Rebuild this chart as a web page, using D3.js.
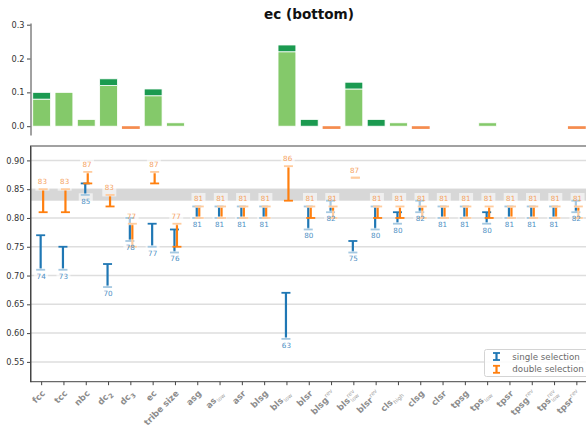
<!DOCTYPE html>
<html>
<head>
<meta charset="utf-8">
<script src="https://cdn.jsdelivr.net/npm/d3@7"></script>
<style>
  body { margin: 0; background: #fff; }
  svg { display: block; font-family: "DejaVu Sans", sans-serif; }
</style>
</head>
<body>
<svg id="chart" width="586" height="427"></svg>
<script>
// ---- data ----
const categories = ["fcc", "tcc", "nbc", "dc", "dc", "ec", "tribe size", "asg", "as", "asr",
  "blsg", "bls", "blsr", "blsg", "bls", "blsr", "cls", "clsg", "clsr", "tpsg",
  "tps", "tpsr", "tpsg", "tps", "tpsr"];
const catSub = ["", "", "", "2", "3", "", "", "", "low", "",
  "", "low", "", "", "low", "", "high", "", "", "",
  "low", "", "", "low", ""];
const catSup = ["", "", "", "", "", "", "", "", "", "",
  "", "", "", "rev", "rev", "rev", "", "", "", "",
  "", "", "rev", "rev", "rev"];

// top panel: gain (light), extra gain stacked on top (dark), loss (below zero)
const gainBase  = [0.08, 0.10, 0.02, 0.12, 0, 0.09, 0.01, 0, 0, 0,
  0, 0.22, 0, 0, 0.11, 0, 0.01, 0, 0, 0, 0.01, 0, 0, 0, 0];
const gainExtra = [0.02, 0, 0, 0.02, 0, 0.02, 0, 0, 0, 0,
  0, 0.02, 0.02, 0, 0.02, 0.02, 0, 0, 0, 0, 0, 0, 0, 0, 0];
const loss      = [0, 0, 0, 0, -0.008, 0, 0, 0, 0, 0,
  0, 0, 0, -0.008, 0, 0, 0, -0.008, 0, 0, 0, 0, 0, 0, -0.008];

// bottom panel: single / double selection, centre and half-range
const singleMean = [0.74, 0.73, 0.85, 0.70, 0.78, 0.77, 0.76, 0.81, 0.81, 0.81,
  0.81, 0.63, 0.80, 0.82, 0.75, 0.80, 0.80, 0.82, 0.81, 0.81,
  0.80, 0.81, 0.81, 0.81, 0.82];
const singleErr  = [0.03, 0.02, 0.01, 0.02, 0.02, 0.02, 0.02, 0.01, 0.01, 0.01,
  0.01, 0.04, 0.02, 0.01, 0.01, 0.02, 0.01, 0.01, 0.01, 0.01,
  0.01, 0.01, 0.01, 0.01, 0.01];
const doubleMean = [0.83, 0.83, 0.87, 0.83, 0.77, 0.87, 0.77, 0.81, 0.81, 0.81,
  0.81, 0.86, 0.81, 0.81, 0.87, 0.81, 0.81, 0.81, 0.81, 0.81,
  0.81, 0.81, 0.81, 0.81, 0.81];
const doubleErr  = [0.02, 0.02, 0.01, 0.01, 0.02, 0.01, 0.02, 0.01, 0.01, 0.01,
  0.01, 0.03, 0.01, 0.01, 0, 0.01, 0.01, 0.01, 0.01, 0.01,
  0.01, 0.01, 0.01, 0.01, 0.01];

const topTicks = [0, 0.1, 0.2, 0.3];
const bottomTicks = [0.55, 0.60, 0.65, 0.70, 0.75, 0.80, 0.85, 0.90];
const refBand = [0.83, 0.85];
const seriesNames = ["single selection", "double selection"];
const chartTitle = "ec (bottom)";

// ---- layout ----
const svg = d3.select("#chart");
const idx = d3.range(categories.length);
const left = 30.5, right = 588;
const x = d3.scaleBand().domain(idx).range([left, right]).paddingInner(0.2).paddingOuter(0.1);
const cx = i => x(i) + x.bandwidth() / 2;

const C = {
  light: "#84c96a", dark: "#1b9a50", lossBar: "#f58c4e",
  blue: "#1f77b4", orange: "#ff7f0e",
  blueText: "#4d8fc4", orangeText: "#f5a35f",
  grid: "#dedede", band: "#d7d7d7", axis: "#444", tickText: "#333"
};

// title
svg.append("text").attr("x", 309).attr("y", 18.5).attr("text-anchor", "middle")
  .attr("font-size", 13.6).attr("font-weight", "bold").attr("fill", "#111").text(chartTitle);

// ---- top panel ----
const yTop = d3.scaleLinear().domain([-0.026, 0.305]).range([135, 23]);
const topG = svg.append("g");

topG.selectAll("rect.base").data(idx.filter(i => gainBase[i] > 0)).join("rect")
  .attr("x", i => x(i)).attr("width", x.bandwidth())
  .attr("y", i => yTop(gainBase[i])).attr("height", i => yTop(0) - yTop(gainBase[i]))
  .attr("fill", C.light).attr("stroke", "#fff").attr("stroke-width", 0.8);
topG.selectAll("rect.extra").data(idx.filter(i => gainExtra[i] > 0)).join("rect")
  .attr("x", i => x(i)).attr("width", x.bandwidth())
  .attr("y", i => yTop(gainBase[i] + gainExtra[i]))
  .attr("height", i => yTop(gainBase[i]) - yTop(gainBase[i] + gainExtra[i]))
  .attr("fill", C.dark).attr("stroke", "#fff").attr("stroke-width", 0.8);
topG.selectAll("rect.loss").data(idx.filter(i => loss[i] < 0)).join("rect")
  .attr("x", i => x(i)).attr("width", x.bandwidth())
  .attr("y", yTop(0)).attr("height", i => yTop(loss[i]) - yTop(0))
  .attr("fill", C.lossBar);

const topAxis = topG.append("g").attr("transform", `translate(${left},0)`)
  .call(d3.axisLeft(yTop).tickValues(topTicks).tickFormat(d3.format(".1f"))
    .tickSize(3.5).tickSizeOuter(0).tickPadding(2.5));

// ---- bottom panel ----
const yB = d3.scaleLinear().domain([0.5156, 0.925]).range([381.7, 146]);
const botG = svg.append("g");

botG.selectAll("line.grid").data(bottomTicks).join("line")
  .attr("x1", left).attr("x2", right).attr("y1", d => yB(d)).attr("y2", d => yB(d))
  .attr("stroke", C.grid).attr("stroke-width", 1.5);
botG.append("rect").attr("x", left).attr("width", right - left)
  .attr("y", yB(refBand[1])).attr("height", yB(refBand[0]) - yB(refBand[1]))
  .attr("fill", C.band);

const series = [
  { mean: singleMean, err: singleErr, color: C.blue, text: C.blueText, dx: -1, below: true },
  { mean: doubleMean, err: doubleErr, color: C.orange, text: C.orangeText, dx: 1.5, below: false }
];
const capW = 9;

series.forEach(s => {
  const g = botG.append("g").attr("stroke", s.color).attr("stroke-width", 2.2);
  idx.forEach(i => {
    const px = cx(i) + s.dx;
    const lo = yB(s.mean[i] - s.err[i]), hi = yB(s.mean[i] + s.err[i]);
    g.append("line").attr("x1", px).attr("x2", px).attr("y1", lo).attr("y2", hi);
    g.append("line").attr("x1", px - capW / 2).attr("x2", px + capW / 2).attr("y1", lo).attr("y2", lo).attr("stroke-width", 1.8);
    g.append("line").attr("x1", px - capW / 2).attr("x2", px + capW / 2).attr("y1", hi).attr("y2", hi).attr("stroke-width", 1.8);
  });
});

// value labels with translucent boxes
series.forEach(s => {
  const g = botG.append("g");
  idx.forEach(i => {
    const px = cx(i) + s.dx * 0.5;
    const v = s.below ? s.mean[i] - s.err[i] - 0.011 : s.mean[i] + s.err[i] + 0.013;
    const py = yB(v);
    const label = Math.round(s.mean[i] * 100);
    const top = s.below ? py - 8 : py - 6;
    const h = s.below ? 13 : 15;
    g.append("rect").attr("x", px - 7).attr("y", top).attr("width", 14).attr("height", h)
      .attr("fill", "#fff").attr("fill-opacity", 0.6);
    g.append("text").attr("x", px).attr("y", py).attr("dy", "0.35em")
      .attr("text-anchor", "middle").attr("font-size", 7.2).attr("fill", s.text).text(label);
  });
});

// frame
botG.append("rect").attr("x", left).attr("y", 146).attr("width", right - left).attr("height", 381.7 - 146)
  .attr("fill", "none").attr("stroke", C.axis).attr("stroke-width", 1);

const botAxisY = botG.append("g").attr("transform", `translate(${left},0)`)
  .call(d3.axisLeft(yB).tickValues(bottomTicks).tickFormat(d3.format(".2f"))
    .tickSize(3.5).tickSizeOuter(0).tickPadding(2.5));
const botAxisX = botG.append("g").attr("transform", "translate(0,381.7)")
  .call(d3.axisBottom(x).tickFormat("").tickSize(3.5).tickSizeOuter(0));

[topAxis, botAxisY, botAxisX].forEach(a => {
  a.selectAll("text").attr("font-size", 8.2).attr("fill", C.tickText).attr("font-family", "DejaVu Sans");
  a.selectAll("line").attr("stroke", C.axis);
  a.select(".domain").attr("stroke", C.axis);
});
botAxisX.select(".domain").remove();

// rotated category labels with sub/superscripts
const labG = svg.append("g").attr("font-family", "DejaVu Sans");
idx.forEach(i => {
  const g = labG.append("g").attr("transform", `translate(${cx(i) + 4},394) rotate(-45)`);
  const base = g.append("text").attr("font-size", 8.6).attr("font-weight", "bold")
    .attr("fill", "#8c8c8c").text(categories[i]);
  const bw = base.node().getComputedTextLength();
  const scripts = [];
  const digit = /^\d+$/.test(catSub[i]);
  if (catSub[i]) scripts.push(g.append("text").attr("y", 2.4).text(catSub[i])
    .attr("font-size", digit ? 6.5 : 5.6).attr("font-weight", digit ? "bold" : "normal")
    .attr("fill", digit ? "#8c8c8c" : "#a8a8a8"));
  if (catSup[i]) scripts.push(g.append("text").attr("y", -3.8).text(catSup[i])
    .attr("font-size", 5.6).attr("fill", "#a8a8a8"));
  const sw = d3.max(scripts, s => s.node().getComputedTextLength()) || 0;
  const gap = sw ? 0.6 : 0;
  base.attr("x", -(bw + sw + gap));
  scripts.forEach(s => s.attr("x", -sw));
});

// legend
const lg = svg.append("g").attr("transform", "translate(484.5,349.5)");
lg.append("rect").attr("width", 110).attr("height", 27).attr("rx", 2)
  .attr("fill", "#fff").attr("fill-opacity", 0.85).attr("stroke", "#d4d4d4").attr("stroke-width", 1);
seriesNames.forEach((name, k) => {
  const yy = 7 + k * 12.8;
  const col = series[k].color;
  const ig = lg.append("g").attr("stroke", col).attr("stroke-width", 2.2);
  ig.append("line").attr("x1", 12).attr("x2", 12).attr("y1", yy - 3.5).attr("y2", yy + 3.5);
  ig.append("line").attr("x1", 8.5).attr("x2", 15.5).attr("y1", yy - 3.5).attr("y2", yy - 3.5).attr("stroke-width", 1.8);
  ig.append("line").attr("x1", 8.5).attr("x2", 15.5).attr("y1", yy + 3.5).attr("y2", yy + 3.5).attr("stroke-width", 1.8);
  lg.append("text").attr("x", 27.8).attr("y", yy).attr("dy", "0.35em")
    .attr("font-size", 8.7).attr("fill", "#6b6b6b").text(name);
});
</script>
</body>
</html>
